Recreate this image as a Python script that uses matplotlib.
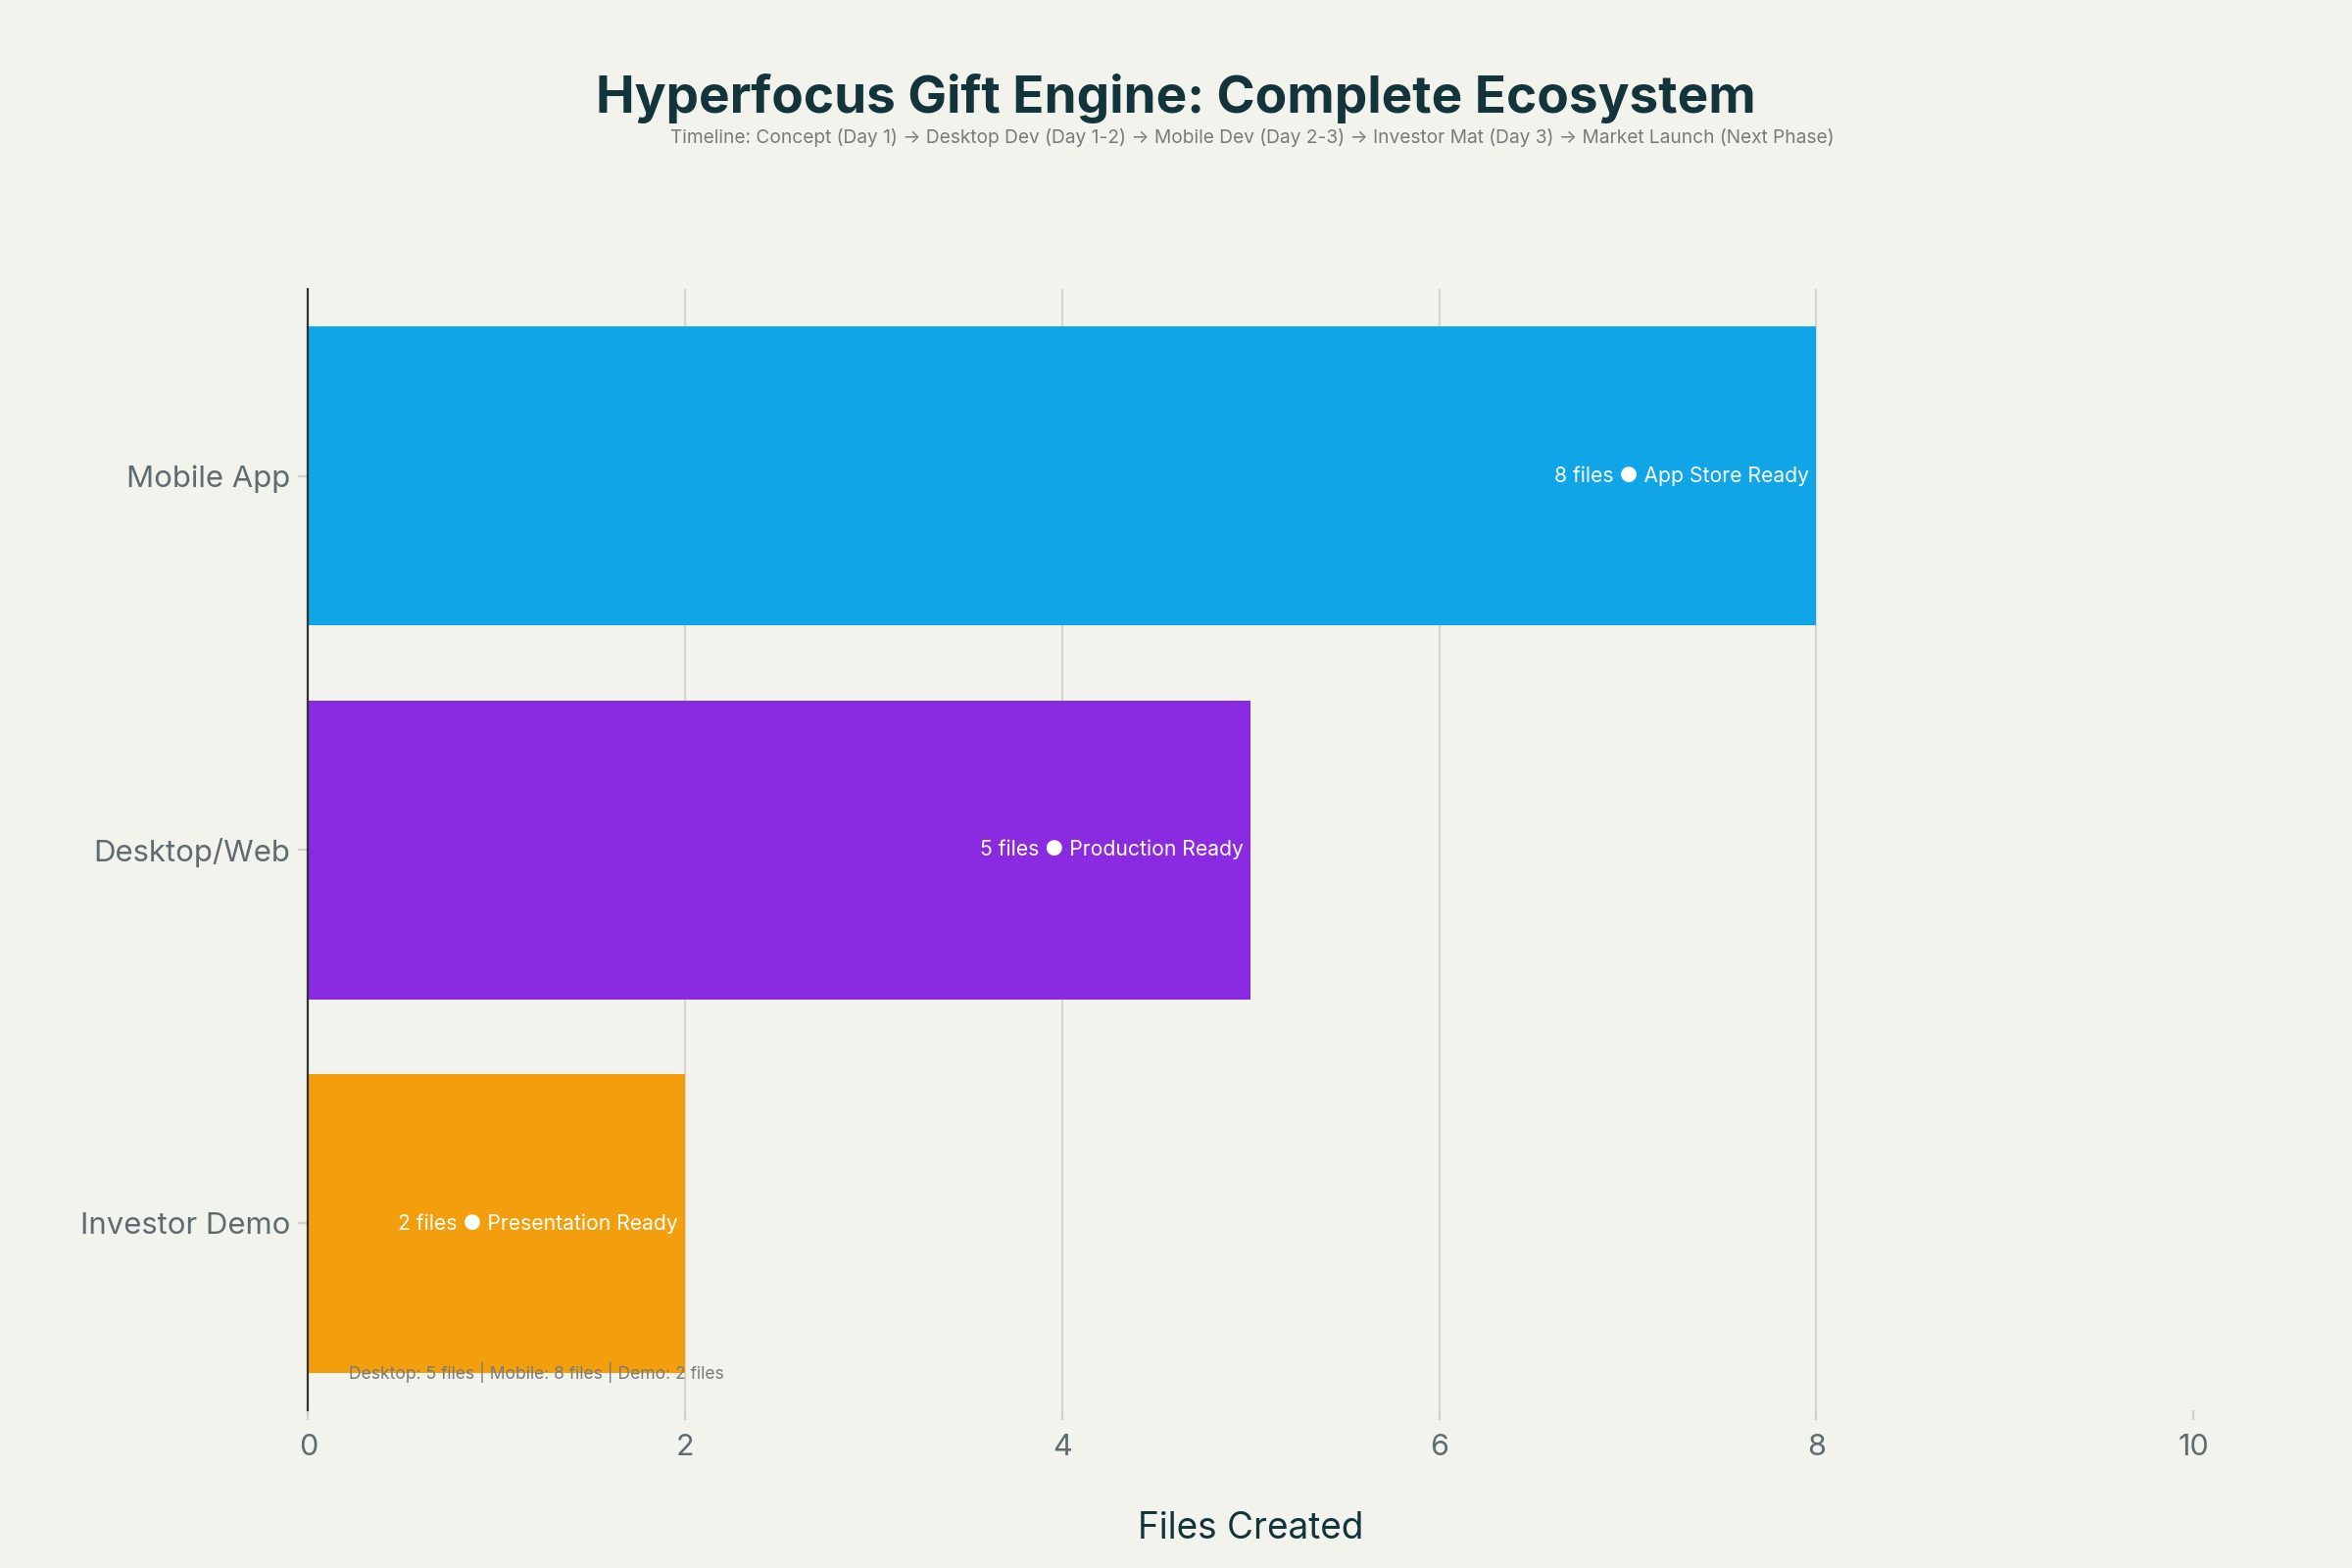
#!/usr/bin/env python3
# -*- coding:utf-8 -*-

import matplotlib
matplotlib.use("Agg")
import matplotlib.pyplot as plt

# data, bottom to top
categories = ["Investor Demo", "Desktop/Web", "Mobile App"]
files_created = [2, 5, 8]
status = ["Presentation Ready", "Production Ready", "App Store Ready"]
bar_colors = ["#F39F0D", "#8A2BE2", "#10A5E6"]
x_ticks = [0, 2, 4, 6, 8, 10]

title = "Hyperfocus Gift Engine: Complete Ecosystem"
subtitle = ("Timeline: Concept (Day 1) \u2192 Desktop Dev (Day 1-2) \u2192 Mobile Dev (Day 2-3) "
            "\u2192 Investor Mat (Day 3) \u2192 Market Launch (Next Phase)")
footnote = "Desktop: 5 files | Mobile: 8 files | Demo: 2 files"

bg = "#F3F3EE"
dark = "#13343B"
gray = "#5E6B70"

plt.rcParams["font.family"] = ["Inter", "DejaVu Sans"]

fig = plt.figure(figsize=(12, 8), dpi=200, facecolor=bg)
ax = fig.add_axes([0.131, 0.1006, 0.8015, 0.715], facecolor=bg)

ax.barh(categories, files_created, height=0.8, color=bar_colors, zorder=2)

for i, (n, s) in enumerate(zip(files_created, status)):
    ax.text(n - 0.04, i, f"{n} files \u25CF {s}", ha="right", va="center",
            color="white", fontsize=7.6, zorder=3)

ax.set_xlim(0, 10)
ax.set_ylim(-0.5, 2.5)
ax.set_xticks(x_ticks)
ax.tick_params(axis="x", colors="#CFCFCB", length=3.6, width=0.8, pad=5,
               labelcolor=gray, labelsize=11)
ax.tick_params(axis="y", colors="#CFCFCB", length=3.6, width=0.8, pad=3,
               labelcolor=gray, labelsize=11.2)
ax.grid(axis="x", color="#D6D6D1", linewidth=0.8, zorder=1)
ax.set_axisbelow(True)
for side in ["top", "right", "bottom"]:
    ax.spines[side].set_visible(False)
ax.spines["left"].set_color("#333333")
ax.spines["left"].set_linewidth(0.8)
ax.spines["left"].set_zorder(4)

fig.canvas.draw()
ax.xaxis.get_gridlines()[-1].set_visible(False)
ax.xaxis.get_gridlines()[0].set_visible(False)

ax.set_xlabel("Files Created", fontsize=13.3, color=dark, labelpad=18.5)

ax.text(0.0215, 0.0335, footnote, transform=ax.transAxes, ha="left", va="center",
        fontsize=6.3, color="#7A7A7A", zorder=5)

fig.text(0.5, 0.9375, title, ha="center", va="center", fontsize=19.1,
         fontweight="bold", color=dark)
fig.text(0.5325, 0.912, subtitle, ha="center", va="center", fontsize=6.9,
         color="#7A7A7A")

plt.savefig("out.png", dpi=200, facecolor=bg)
